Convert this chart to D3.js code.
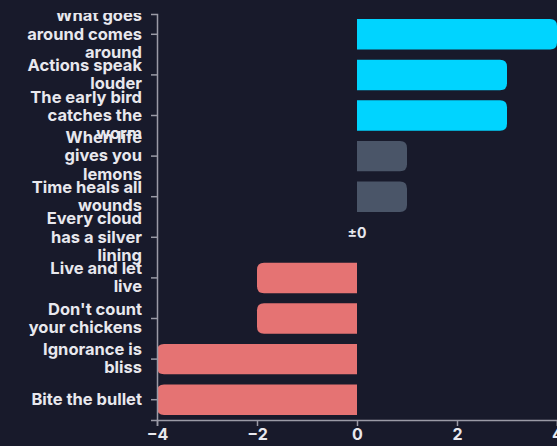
<!DOCTYPE html>
<html><head><meta charset="utf-8">
<script src="https://cdn.jsdelivr.net/npm/d3@7"></script>
<style>
html,body{margin:0;padding:0;background:#181a2b;overflow:hidden;}
svg{display:block;margin-top:13px;overflow:hidden;}
</style></head>
<body>
<script>
const categories = ["What goes around comes around","Actions speak louder","The early bird catches the worm","When life gives you lemons","Time heals all wounds","Every cloud has a silver lining","Live and let live","Don't count your chickens","Ignorance is bliss","Bite the bullet"];
const values = [4,3,3,1,1,0,-2,-2,-4,-4];
const xTicks = [-4,-2,0,2,4];

const W = 557, H = 450;
const margin = {top:1, right:0, bottom:43, left:157};
const fontCss = "Inter, 'Liberation Sans', Arial, sans-serif";
const svg = d3.select("body").append("svg").attr("width",W).attr("height",H);

const x = d3.scaleLinear().domain([-4,4]).range([margin.left, W - margin.right]);
const y = d3.scaleBand().domain(categories).range([margin.top, H - margin.bottom]).paddingInner(0.25).paddingOuter(0.125);

const data = categories.map((c,i)=>({cat:c, v:values[i]}));
const color = v => v >= 2 ? "#00d4ff" : v > 0 ? "#4a5568" : "#e57373";
const r = 7;

function barPath(d){
  const y0 = y(d.cat), h = y.bandwidth();
  const x0 = x(0), x1 = x(d.v);
  const rr = Math.min(r, Math.abs(x1-x0), h/2);
  const s = d.v > 0 ? -1 : 1;
  return `M${x0},${y0}H${x1+s*rr}Q${x1},${y0} ${x1},${y0+rr}V${y0+h-rr}Q${x1},${y0+h} ${x1+s*rr},${y0+h}H${x0}Z`;
}

svg.append("g").selectAll("path").data(data.filter(d=>d.v!==0)).join("path")
  .attr("d", barPath).attr("fill", d=>color(d.v));

svg.append("g").selectAll("text").data(data.filter(d=>d.v===0)).join("text")
  .attr("x", d=>x(0)).attr("y", d=>y(d.cat)+y.bandwidth()/2+1)
  .attr("text-anchor","middle").attr("fill","#e8e8ee")
  .style("font-family",fontCss).style("font-weight","700").style("font-size","14px")
  .text("±0");

const yAxis = svg.append("g").attr("transform",`translate(${margin.left},0)`)
  .call(d3.axisLeft(y).tickSize(6).tickPadding(9));
const xAxis = svg.append("g").attr("transform",`translate(0,${y.range()[1]})`)
  .call(d3.axisBottom(x).tickValues(xTicks).tickSize(6).tickPadding(3));

[yAxis,xAxis].forEach(g=>{
  g.selectAll(".domain").attr("stroke","#9a9aa6").attr("stroke-width",1.5);
  g.selectAll(".tick line").attr("stroke","#9a9aa6").attr("stroke-width",1.5);
  g.selectAll("text").attr("fill","#e8e8ee").style("font-family",fontCss).style("font-weight","700").style("font-size","16px");
});
yAxis.selectAll("text").style("font-size","16.5px");

function wrap(text, width){
  text.each(function(){
    const t = d3.select(this);
    const words = t.text().split(/\s+/);
    const xx = t.attr("x");
    t.text(null);
    let lines = [], line = [];
    const tmp = t.append("tspan");
    words.forEach(w=>{
      line.push(w);
      tmp.text(line.join(" "));
      if (tmp.node().getComputedTextLength() > width && line.length > 1){
        line.pop(); lines.push(line.join(" ")); line = [w];
      }
    });
    lines.push(line.join(" "));
    tmp.remove();
    const lh = 1.1;
    const start = -(lines.length-1)/2*lh + 0.32;
    lines.forEach((l,i)=>{
      t.append("tspan").attr("x",xx).attr("dy", (i===0? start : lh)+"em").text(l);
    });
    t.attr("dy",null);
  });
}
yAxis.selectAll(".tick text").call(wrap, 122);
</script>
</body></html>
